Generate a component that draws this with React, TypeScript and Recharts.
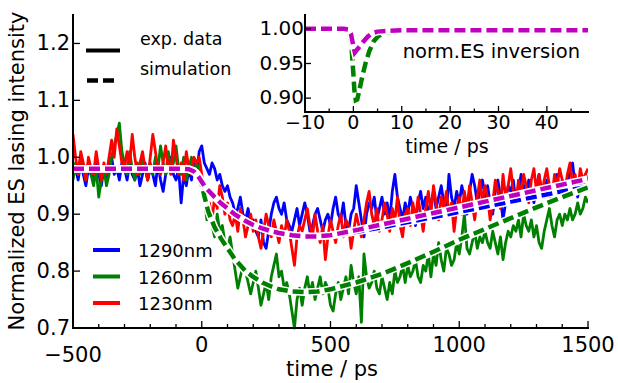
import React from 'react';
import { LineChart, Line, XAxis, YAxis, CartesianGrid } from 'recharts';

const FONT = '"DejaVu Sans", sans-serif';

// ---------- experimental data (sampled every 10 ps from -500 ps) ----------
const EXP_START = -500;
const EXP_STEP = 10;

const EXP_1290 = [
  0.97, 0.98, 0.96, 0.99, 0.97, 0.95, 0.98, 0.97, 0.96, 0.99,
  0.97, 0.95, 0.98, 0.96, 0.99, 1.0, 0.97, 0.98, 0.96, 0.99,
  0.98, 0.96, 0.99, 0.97, 0.96, 0.98, 0.95, 0.97, 0.99, 0.96,
  0.98, 0.97, 0.95, 0.99, 0.96, 0.94, 0.97, 0.98, 1.0, 0.97,
  0.96, 0.98, 0.92, 0.97, 0.95, 0.98, 0.96, 0.99, 0.97, 1.01,
  1.02, 0.99, 0.98, 0.97, 0.99, 0.98, 0.96, 0.97, 0.95, 0.94,
  0.95, 0.93, 0.92, 0.9, 0.91, 0.93, 0.9, 0.89, 0.91, 0.88,
  0.89, 0.87, 0.86, 0.89, 0.85, 0.84, 0.87, 0.9, 0.92, 0.93,
  0.91, 0.9, 0.92, 0.89, 0.88, 0.87, 0.89, 0.91, 0.88, 0.9,
  0.92, 0.9, 0.87, 0.88, 0.9, 0.91, 0.89, 0.87, 0.89, 0.9,
  0.88, 0.91, 0.93, 0.9, 0.89, 0.92, 0.88, 0.87, 0.9, 0.91,
  0.95, 0.92, 0.89, 0.86, 0.9, 0.92, 0.91, 0.93, 0.89, 0.91,
  0.93, 0.9, 0.92, 0.89, 0.94, 0.97, 0.93, 0.91, 0.89, 0.92,
  0.9, 0.93, 0.91, 0.88, 0.92, 0.94, 0.91, 0.93, 0.9, 0.92,
  0.94, 0.91, 0.93, 0.95, 0.92, 0.9, 0.97, 0.93, 0.91, 0.94,
  0.92, 0.95, 0.93, 0.9, 0.94, 0.97, 0.95, 0.92, 0.94, 0.96,
  0.93, 0.95, 0.92, 0.9, 0.94, 0.96, 0.93, 0.89, 0.92, 0.95,
  0.94, 0.96, 0.92, 0.94, 0.97, 0.95, 0.93, 0.96, 0.94, 0.92,
  0.95, 0.97, 0.94, 0.93, 0.96, 0.94, 0.92, 0.95, 0.97, 0.94,
  0.96, 0.93, 0.95, 0.98, 0.99, 0.95, 0.93, 0.96, 0.94, 0.97,
  0.96,
];

const EXP_1260 = [
  0.96, 0.99, 0.97, 1.0, 0.98, 0.96, 0.99, 0.97, 0.95, 0.98,
  0.93, 0.96, 0.98, 0.95, 0.97, 1.0, 1.02, 1.04, 1.06, 1.01,
  0.99, 0.97, 1.01, 0.98, 0.96, 0.99, 0.97, 1.0, 0.98, 0.96,
  0.99, 0.97, 1.0, 0.98, 1.02, 0.99, 0.97, 1.01, 0.98, 0.99,
  1.02, 0.98, 0.97, 1.0, 0.96, 0.98, 1.0, 0.97, 0.99, 0.98,
  0.96, 0.93, 0.89, 0.91, 0.88, 0.86, 0.9, 0.87, 0.88, 0.85,
  0.84, 0.86, 0.83, 0.8, 0.77, 0.79, 0.81, 0.8, 0.78, 0.76,
  0.78, 0.8, 0.77, 0.74, 0.76, 0.78, 0.75, 0.79, 0.81, 0.83,
  0.79, 0.8, 0.77, 0.78, 0.76, 0.73, 0.7, 0.75, 0.77, 0.74,
  0.77, 0.79, 0.76, 0.78, 0.75, 0.77, 0.79, 0.76, 0.78, 0.77,
  0.74, 0.73, 0.76, 0.78, 0.75, 0.77, 0.79, 0.76, 0.81, 0.78,
  0.76, 0.79, 0.71, 0.83, 0.79, 0.77, 0.78, 0.8, 0.77, 0.76,
  0.79, 0.77, 0.75, 0.78, 0.76, 0.8, 0.78, 0.79, 0.81, 0.78,
  0.81, 0.79, 0.8, 0.82, 0.79, 0.78, 0.81, 0.8, 0.83, 0.79,
  0.83, 0.81, 0.85, 0.82, 0.8, 0.84, 0.83, 0.81, 0.82, 0.85,
  0.83, 0.86, 0.9, 0.84, 0.83, 0.85, 0.87, 0.84, 0.86, 0.85,
  0.87, 0.85, 0.84, 0.87, 0.85, 0.83, 0.86, 0.82, 0.85, 0.87,
  0.86, 0.88, 0.87, 0.89, 0.86, 0.9, 0.88, 0.87, 0.89, 0.86,
  0.88, 0.85, 0.84, 0.87, 0.89, 0.91, 0.88, 0.86, 0.89, 0.9,
  0.88, 0.9, 0.89, 0.91, 0.89, 0.9, 0.92, 0.9, 0.91, 0.93,
  0.92,
];

const EXP_1230 = [
  1.04, 1.0, 0.97, 1.01, 0.99, 0.96, 1.0, 0.98, 0.97, 1.01,
  0.98, 0.96, 0.99, 0.97, 1.0, 1.03, 1.0, 1.05, 1.02, 0.99,
  0.98, 1.01, 0.99, 1.04, 1.0, 0.97, 0.99, 1.01, 0.98, 0.96,
  1.0, 1.04, 1.01, 0.98, 0.97, 0.99, 1.02, 0.98, 0.97, 1.03,
  1.0, 0.97, 0.99, 0.96, 1.01, 0.98, 0.97, 1.0, 0.99, 1.0,
  0.97, 0.93, 0.9, 0.92, 0.89, 0.93, 0.91, 0.95, 0.93, 0.9,
  0.92, 0.89, 0.88, 0.9, 0.87, 0.91, 0.89, 0.86, 0.88, 0.9,
  0.87, 0.89, 0.86, 0.84, 0.87, 0.9, 0.88, 0.86, 0.89, 0.87,
  0.85, 0.88, 0.86, 0.89, 0.87, 0.84, 0.81, 0.86, 0.88, 0.87,
  0.89, 0.91, 0.88, 0.86, 0.9, 0.87, 0.85, 0.88, 0.82, 0.86,
  0.89, 0.87, 0.85, 0.88, 0.9, 0.86, 0.89, 0.88, 0.84, 0.87,
  0.9, 0.88, 0.86, 0.89, 0.92, 0.94, 0.9, 0.88, 0.91, 0.87,
  0.89, 0.92, 0.9, 0.87, 0.91, 0.89, 0.93, 0.88, 0.86, 0.9,
  0.91, 0.88, 0.92, 0.89, 0.93, 0.9, 0.87, 0.91, 0.94, 0.9,
  0.95, 0.92, 0.89, 0.93, 0.91, 0.94, 0.9, 0.92, 0.87, 0.91,
  0.93, 0.9, 0.94, 0.91, 0.95, 0.92, 0.89, 0.93, 0.96, 0.92,
  0.95, 0.93, 0.89, 0.92, 0.96, 0.94, 0.91, 0.97, 0.93, 0.95,
  0.98, 0.94, 0.92, 0.96, 0.93, 0.97, 0.95, 0.92, 0.96, 0.98,
  0.94, 0.97, 0.93, 0.96, 0.98, 0.95, 0.93, 0.97, 0.95, 0.98,
  0.96, 0.94, 0.97, 0.99, 0.95, 0.97, 0.94, 0.98, 0.96, 0.97,
  0.98,
];

// ---------- simulations (main panel) ----------
const SIM_T = [-500, -100, -50, -30, -20, -10, 0, 10, 25, 50, 75, 100, 130, 170, 200, 235, 270, 300, 350, 400, 450, 500, 600, 700, 800, 900, 1000, 1100, 1200, 1300, 1400, 1500];
const SIM_MAGENTA = [0.98, 0.98, 0.979, 0.975, 0.97, 0.964, 0.957, 0.95, 0.942, 0.93, 0.919, 0.91, 0.899, 0.888, 0.881, 0.875, 0.87, 0.867, 0.863, 0.861, 0.861, 0.863, 0.872, 0.882, 0.892, 0.902, 0.912, 0.922, 0.932, 0.942, 0.952, 0.962];
const SIM_BLUE = [0.98, 0.98, 0.979, 0.975, 0.97, 0.964, 0.957, 0.95, 0.942, 0.93, 0.919, 0.91, 0.899, 0.888, 0.881, 0.875, 0.87, 0.867, 0.863, 0.861, 0.861, 0.862, 0.869, 0.877, 0.886, 0.895, 0.904, 0.913, 0.922, 0.931, 0.94, 0.948];
const SIM_GREEN = [0.98, 0.98, 0.979, 0.976, 0.972, 0.965, 0.952, 0.932, 0.905, 0.877, 0.857, 0.84, 0.82, 0.8, 0.79, 0.78, 0.773, 0.768, 0.764, 0.763, 0.764, 0.768, 0.78, 0.795, 0.814, 0.834, 0.855, 0.874, 0.893, 0.912, 0.93, 0.947];

// ---------- inset: normalized ES inversion ----------
const INSET_MAG_T = [-10, -2, -1, -0.5, 0, 0.3, 1, 2, 3, 4, 5, 7, 10, 20, 48.5];
const INSET_MAG = [1.0, 1.0, 0.999, 0.993, 0.975, 0.966, 0.972, 0.981, 0.989, 0.994, 0.996, 0.997, 0.998, 0.998, 0.998];
const INSET_GRN_T = [-10, -2, -1, -0.5, -0.2, 0, 0.2, 0.5, 0.8, 1.2, 1.8, 2.5, 3.3, 4.2, 5.2, 7, 10, 20, 48.5];
const INSET_GRN = [1.0, 1.0, 0.999, 0.985, 0.955, 0.935, 0.912, 0.897, 0.898, 0.91, 0.93, 0.95, 0.968, 0.982, 0.99, 0.995, 0.997, 0.998, 0.998];

// ---------- ticks ----------
const MAIN_X_DOMAIN = [-500, 1500];
const MAIN_X_TICKS = [-500, -400, -300, -200, -100, 0, 100, 200, 300, 400, 500, 600, 700, 800, 900, 1000, 1100, 1200, 1300, 1400, 1500];
const MAIN_X_MAJOR = [-500, 0, 500, 1000, 1500];
const MAIN_X_LABELS = ['\u2212500', '0', '500', '1000', '1500'];
const MAIN_Y_DOMAIN = [0.7, 1.25];
const MAIN_Y_TICKS = [0.7, 0.8, 0.9, 1.0, 1.1, 1.2];
const MAIN_Y_LABELS = ['0.7', '0.8', '0.9', '1.0', '1.1', '1.2'];

const INSET_X_DOMAIN = [-10, 48.5];
const INSET_X_TICKS = [-10, -5, 0, 5, 10, 15, 20, 25, 30, 35, 40, 45];
const INSET_X_MAJOR = [-10, 0, 10, 20, 30, 40];
const INSET_X_LABELS = ['\u221210', '0', '10', '20', '30', '40'];
const INSET_Y_DOMAIN = [0.88, 1.02];
const INSET_Y_TICKS = [0.9, 0.95, 1.0];
const INSET_Y_LABELS = ['0.90', '0.95', '1.00'];

const LEGEND_LABELS = ['1290nm', '1260nm', '1230nm'];
const COLORS = { blue: '#0000ff', green: '#008000', red: '#ff0000', magenta: '#bf00bf' };

const toPoints = (ts: number[], vs: number[]) => ts.map((t, i) => ({ t, v: vs[i] }));
const expPoints = (vs: number[]) => vs.map((v, i) => ({ t: EXP_START + i * EXP_STEP, v }));

const D1290 = expPoints(EXP_1290);
const D1260 = expPoints(EXP_1260);
const D1230 = expPoints(EXP_1230);
const DSIM_M = toPoints(SIM_T, SIM_MAGENTA);
const DSIM_B = toPoints(SIM_T, SIM_BLUE);
const DSIM_G = toPoints(SIM_T, SIM_GREEN);
const DIN_M = toPoints(INSET_MAG_T, INSET_MAG);
const DIN_G = toPoints(INSET_GRN_T, INSET_GRN);

const idx = (v: number, arr: number[]) => arr.findIndex((m) => Math.abs(m - v) < 1e-9);

const AXIS_LINE = { stroke: '#000', strokeWidth: 2, strokeLinecap: 'square' as const };
const TICK_STROKE = 1.3;

type TP = { x?: number; y?: number; payload?: { value: number } };

const makeTick = (
  side: 'bottom' | 'top' | 'left' | 'right',
  majors: number[],
  labels: string[] | null,
  majorLen: number,
  minorLen: number,
  fontSize: number,
  labelDx: number,
  labelDy: number,
  special?: { value: number; dy: number }
) =>
  (props: TP) => {
    const x = props.x ?? 0;
    const y = props.y ?? 0;
    const v = props.payload ? props.payload.value : 0;
    const k = idx(v, majors);
    const len = k >= 0 ? majorLen : minorLen;
    let x2 = x;
    let y2 = y;
    if (side === 'bottom') y2 = y - len;
    if (side === 'top') y2 = y + len;
    if (side === 'left') x2 = x + len;
    if (side === 'right') x2 = x - len;
    const anchor = side === 'left' ? 'end' : 'middle';
    const dy = special && Math.abs(special.value - v) < 1e-9 ? special.dy : labelDy;
    return (
      <g>
        <line x1={x} y1={y} x2={x2} y2={y2} stroke="#000" strokeWidth={TICK_STROKE} />
        {labels && k >= 0 ? (
          <text x={x + labelDx} y={y + dy} textAnchor={anchor} fontFamily={FONT} fontSize={fontSize} fill="#000">
            {labels[k]}
          </text>
        ) : null}
      </g>
    );
  };

const MainBottomTick = makeTick('bottom', MAIN_X_MAJOR, MAIN_X_LABELS, 7, 4, 21, 0, 24, { value: -500, dy: 34 });
const MainTopTick = makeTick('top', MAIN_X_MAJOR, null, 7, 4, 21, 0, 0);
const MainLeftTick = makeTick('left', MAIN_Y_TICKS, MAIN_Y_LABELS, 7, 4, 21, -3, 7);
const MainRightTick = makeTick('right', MAIN_Y_TICKS, null, 7, 4, 21, 0, 0);

const InBottomTick = makeTick('bottom', INSET_X_MAJOR, INSET_X_LABELS, 6, 3.5, 19, 0, 17);
const InTopTick = makeTick('top', INSET_X_MAJOR, null, 6, 3.5, 20, 0, 0);
const InLeftTick = makeTick('left', INSET_Y_TICKS, INSET_Y_LABELS, 6, 3.5, 20, -1, 6);
const InRightTick = makeTick('right', INSET_Y_TICKS, null, 6, 3.5, 20, 0, 0);

const DASH = '11 5';

function simLines(data: { t: number; v: number }[], color: string, key: string, xId: string, yId: string) {
  return [
    <Line key={key + '-w'} xAxisId={xId} yAxisId={yId} data={data} dataKey="v" type="linear" stroke="#ffffff" strokeWidth={7.5} dot={false} activeDot={false} isAnimationActive={false} />,
    <Line key={key + '-d'} xAxisId={xId} yAxisId={yId} data={data} dataKey="v" type="linear" stroke={color} strokeWidth={4.5} strokeDasharray={DASH} dot={false} activeDot={false} isAnimationActive={false} />,
  ];
}

function expLine(data: { t: number; v: number }[], color: string, key: string) {
  return (
    <Line key={key} xAxisId="b" yAxisId="l" data={data} dataKey="v" type="linear" stroke={color} strokeWidth={2.8} strokeLinejoin="round" dot={false} activeDot={false} isAnimationActive={false} />
  );
}

export default function App() {
  return (
    <div style={{ position: 'absolute', left: 0, top: 0, width: 618, height: 383, background: '#fff', overflow: 'hidden' }}>
      <div style={{ position: 'absolute', left: 0, top: 0 }}>
        <LineChart width={618} height={383} margin={{ top: 15, right: 30, left: 0, bottom: 0 }}>
          <XAxis xAxisId="b" dataKey="t" type="number" domain={MAIN_X_DOMAIN} ticks={MAIN_X_TICKS} interval={0} height={55} tickSize={0} tickMargin={0} tickLine={false} axisLine={AXIS_LINE} tick={MainBottomTick} allowDataOverflow />
          <XAxis xAxisId="top" orientation="top" dataKey="t" type="number" domain={MAIN_X_DOMAIN} ticks={MAIN_X_TICKS} interval={0} height={0} tickSize={0} tickMargin={0} tickLine={false} axisLine={AXIS_LINE} tick={MainTopTick} allowDataOverflow />
          <YAxis yAxisId="l" type="number" domain={MAIN_Y_DOMAIN} ticks={MAIN_Y_TICKS} interval={0} width={73} tickSize={0} tickMargin={0} tickLine={false} axisLine={AXIS_LINE} tick={MainLeftTick} />
          <YAxis yAxisId="r" orientation="right" type="number" domain={MAIN_Y_DOMAIN} ticks={MAIN_Y_TICKS} interval={0} width={0} tickSize={0} tickMargin={0} tickLine={false} axisLine={AXIS_LINE} tick={MainRightTick} />
          {expLine(D1290, COLORS.blue, 'e1290')}
          {expLine(D1260, COLORS.green, 'e1260')}
          {expLine(D1230, COLORS.red, 'e1230')}
          {simLines(DSIM_B, COLORS.blue, 'sb', 'b', 'l')}
          {simLines(DSIM_G, COLORS.green, 'sg', 'b', 'l')}
          {simLines(DSIM_M, COLORS.magenta, 'sm', 'b', 'l')}
        </LineChart>
      </div>

      <svg width={618} height={383} style={{ position: 'absolute', left: 0, top: 0, pointerEvents: 'none' }}>
        <text transform="translate(24,171) rotate(-90)" textAnchor="middle" fontFamily={FONT} fontSize={21} fill="#000">
          Normalized ES lasing intensity
        </text>
        <text x={332} y={376} textAnchor="middle" fontFamily={FONT} fontSize={21} fill="#000">
          time / ps
        </text>
        <line x1={86} y1={50.5} x2={120} y2={50.5} stroke="#000" strokeWidth={4} />
        <text x={140} y={45} fontFamily={FONT} fontSize={17.5} fill="#000">exp. data</text>
        <line x1={87} y1={80.5} x2={114} y2={80.5} stroke="#000" strokeWidth={4.5} strokeDasharray={DASH} />
        <text x={140} y={75} fontFamily={FONT} fontSize={17.5} fill="#000">simulation</text>
        {LEGEND_LABELS.map((lab, i) => (
          <g key={lab}>
            <line x1={93} y1={250 + i * 26.5} x2={120} y2={250 + i * 26.5} stroke={[COLORS.blue, COLORS.green, COLORS.red][i]} strokeWidth={4} />
            <text x={138} y={257 + i * 26.5} fontFamily={FONT} fontSize={18} fill="#000">{lab}</text>
          </g>
        ))}
      </svg>

      <div style={{ position: 'absolute', left: 250, top: 0 }}>
        <LineChart width={368} height={160} margin={{ top: 15, right: 30, left: 0, bottom: 0 }}>
          <CartesianGrid xAxisId="b" yAxisId="l" fill="#ffffff" horizontal={false} vertical={false} stroke="none" />
          <XAxis xAxisId="b" dataKey="t" type="number" domain={INSET_X_DOMAIN} ticks={INSET_X_TICKS} interval={0} height={48} tickSize={0} tickMargin={0} tickLine={false} axisLine={AXIS_LINE} tick={InBottomTick} allowDataOverflow />
          <XAxis xAxisId="top" orientation="top" dataKey="t" type="number" domain={INSET_X_DOMAIN} ticks={INSET_X_TICKS} interval={0} height={0} tickSize={0} tickMargin={0} tickLine={false} axisLine={AXIS_LINE} tick={InTopTick} allowDataOverflow />
          <YAxis yAxisId="l" type="number" domain={INSET_Y_DOMAIN} ticks={INSET_Y_TICKS} interval={0} width={55} tickSize={0} tickMargin={0} tickLine={false} axisLine={AXIS_LINE} tick={InLeftTick} />
          <YAxis yAxisId="r" orientation="right" type="number" domain={INSET_Y_DOMAIN} ticks={INSET_Y_TICKS} interval={0} width={0} tickSize={0} tickMargin={0} tickLine={false} axisLine={AXIS_LINE} tick={InRightTick} />
          {simLines(DIN_G, COLORS.green, 'ig', 'b', 'l')}
          {simLines(DIN_M, COLORS.magenta, 'im', 'b', 'l')}
        </LineChart>
        <svg width={368} height={160} style={{ position: 'absolute', left: 0, top: 0, pointerEvents: 'none' }}>
          <text x={197} y={153} textAnchor="middle" fontFamily={FONT} fontSize={19} fill="#000">time / ps</text>
          <text x={330} y={58} textAnchor="end" fontFamily={FONT} fontSize={19.5} fill="#000">norm.ES inversion</text>
        </svg>
      </div>
    </div>
  );
}
